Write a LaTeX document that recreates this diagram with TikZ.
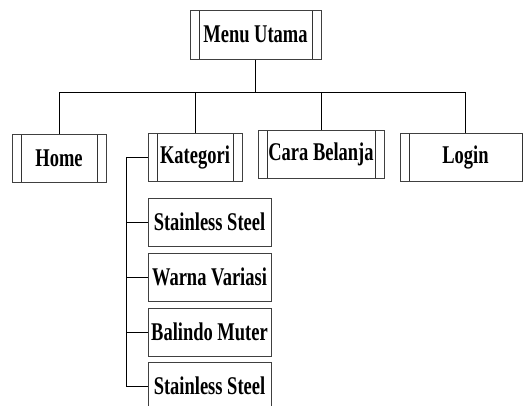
\documentclass[tikz,border=0pt]{standalone}
\usepackage{fontspec}
\setmainfont{Liberation Serif}
\newcommand{\squeezetxt}[1]{\scalebox{0.725}[1]{#1}}
\begin{document}
\begin{tikzpicture}[x=1pt,y=-1pt,
  lbl/.style={font=\fontsize{25.5}{25.5}\selectfont\bfseries},
  plainbox/.style={lbl, draw=black!75, line width=1pt, minimum height=48pt, inner sep=0pt, anchor=center},
  procbox/.style={plainbox, path picture={
     \draw[line width=0.6pt, black!80] ([xshift=9pt]path picture bounding box.north west) -- ([xshift=9pt]path picture bounding box.south west);
     \draw[line width=0.6pt, black!80] ([xshift=-9pt]path picture bounding box.north east) -- ([xshift=-9pt]path picture bounding box.south east);}},
  conn/.style={line width=0.8pt, black}]
\useasboundingbox (0,0) rectangle (523,405);
\clip (0,0) rectangle (523,405);
\node[procbox, minimum width=131pt, minimum height=49pt] (menu) at (255.5,34.5) {\squeezetxt{Menu Utama}};
\node[procbox, minimum width=94pt] (home) at (59,158) {\squeezetxt{Home}};
\node[procbox, minimum width=94pt] (kat) at (195,157) {\squeezetxt{Kategori}};
\node[procbox, minimum width=126pt] (cara) at (321,154) {\squeezetxt{Cara Belanja}};
\node[procbox, minimum width=131pt] (login) at (465.5,157) {\squeezetxt{Login}};
\node[plainbox, minimum width=123pt] (s1) at (209.5,222) {\squeezetxt{Stainless Steel}};
\node[plainbox, minimum width=123pt] (s2) at (209.5,277) {\squeezetxt{Warna Variasi}};
\node[plainbox, minimum width=123pt] (s3) at (209.5,332) {\squeezetxt{Balindo Muter}};
\node[plainbox, minimum width=123pt] (s4) at (209.5,386) {\squeezetxt{Stainless Steel}};
\draw[conn] (menu.south) -- ++(0,33) coordinate (j);
\draw[conn] (home.north) -- (home.north |- j) -- (login.north |- j) -- (login.north);
\draw[conn] (kat.north) -- (kat.north |- j);
\draw[conn] (cara.north) -- (cara.north |- j);
\draw[conn] (kat.west) -- ++(-21,0) coordinate (k) |- (s4.west);
\draw[conn] (s1.west) -- (s1.west -| k);
\draw[conn] (s2.west) -- (s2.west -| k);
\draw[conn] (s3.west) -- (s3.west -| k);
\end{tikzpicture}
\end{document}
